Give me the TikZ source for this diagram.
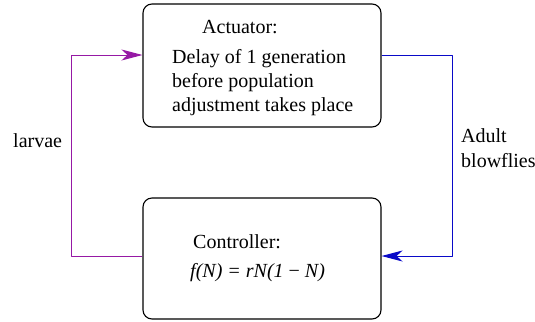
\documentclass[tikz,border=0pt]{standalone}
\usepackage{fontspec}
\setmainfont{Liberation Serif}
\usetikzlibrary{arrows.meta}
\definecolor{larvacol}{RGB}{150,25,165}
\definecolor{adultcol}{RGB}{10,10,200}
\begin{document}
\begin{tikzpicture}[x=1bp,y=-1bp, line join=round,
		font=\fontsize{20bp}{24bp}\selectfont,
		box/.style={draw, line width=1.1bp, rounded corners=9bp, minimum width=238bp, inner sep=0pt},
		txt/.style={inner sep=0pt, anchor=base west},
		feed/.style={line width=1bp, -{Stealth[length=21bp, width=11bp, inset=6bp]}}]
	\useasboundingbox (0,0) rectangle (535,321);
	\def\xl{71} \def\xr{452} % vertical legs
	% blocks
	\node[box, minimum height=123bp] (act) at (262,65.5) {};
	\node[box, minimum height=121bp] (ctl) at (262,258.5) {};
	\node[txt] (acttitle) at (202,33) {Actuator:};
	\node[txt] (actl1) at (172,63) {Delay of 1 generation};
	\node[txt] (actl2) at (172,87) {before population};
	\node[txt] (actl3) at (172,111) {adjustment takes place};
	\node[txt] (ctltitle) at (193,248) {Controller:};
	\node[txt] (ctlfun) at (190,277) {\itshape f(N) = rN(1 {\upshape −} N)};
	% loop
	\coordinate (ain) at (act.west |- 0,55);
	\coordinate (aout) at (act.east |- 0,55);
	\coordinate (cin) at (ctl.east |- 0,256);
	\coordinate (cout) at (ctl.west |- 0,256);
	\draw[feed, larvacol] (cout) -- (\xl,256) -- (\xl,55) -- (ain);
	\draw[feed, adultcol] (aout) -- (\xr,55) -- (\xr,256) -- (cin);
	\node[txt] (larv) at (13,147) {larvae};
	\node[txt] (adult) at (461,142) {Adult};
	\node[txt] (blow) at (461,167) {blowflies};
\end{tikzpicture}
\end{document}
